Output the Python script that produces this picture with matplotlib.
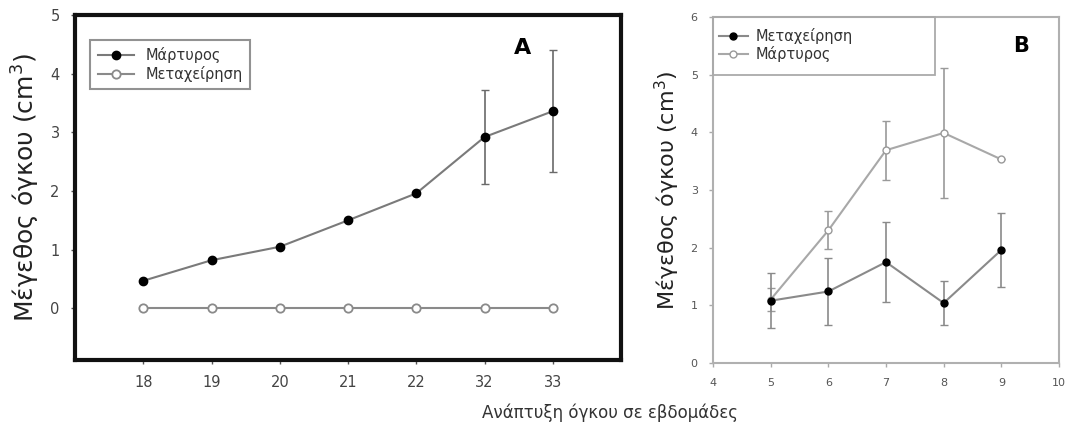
import matplotlib
matplotlib.use("Agg")
import matplotlib.pyplot as plt
from matplotlib.lines import Line2D
from matplotlib.patches import Rectangle
import numpy as np

plt.rcParams['font.family'] = ['DejaVu Sans']

# Panel A data
weeks_a = ["18", "19", "20", "21", "22", "32", "33"]
control_a = [0.47, 0.82, 1.05, 1.50, 1.96, 2.92, 3.36]
control_a_err = [0, 0, 0, 0, 0, 0.80, 1.04]
treat_a = [0, 0, 0, 0, 0, 0, 0]

# Panel B data
weeks_b = [5, 6, 7, 8, 9]
treat_b = [1.08, 1.24, 1.75, 1.04, 1.96]
treat_b_err = [0.48, 0.58, 0.70, 0.38, 0.64]
control_b = [1.10, 2.30, 3.69, 3.99, 3.53]
control_b_err = [0.20, 0.33, 0.51, 1.13, 0.0]

W, H = 1070, 433
fig = plt.figure(figsize=(W/100, H/100), dpi=100)

# Panel A
axA = fig.add_axes([75/W, 1-360/H, (621-75)/W, (360-15)/H])
xa = np.arange(len(weeks_a))
axA.plot(xa, treat_a, '-o', color='#8a8a8a', lw=1.5, ms=6, mfc='white', mec='#8a8a8a', mew=1.3, zorder=2)
axA.errorbar(xa, control_a, yerr=control_a_err, fmt='-o', color='#7a7a7a', lw=1.5,
             ms=6, mfc='black', mec='black', ecolor='#6a6a6a', elinewidth=1.2, capsize=3, zorder=3)
axA.set_xlim(-1, 7)
axA.set_ylim(-0.88, 5)
axA.set_xticks(xa)
axA.set_xticklabels(weeks_a)
axA.set_yticks([0, 1, 2, 3, 4, 5])
for s in axA.spines.values():
    s.set_linewidth(3)
    s.set_color('#111111')
axA.tick_params(length=3, width=1, color='#555555', labelsize=10.5, labelcolor='#444444', pad=8)
axA.text(0.82, 0.905, 'A', transform=axA.transAxes, fontsize=16, fontweight='bold', ha='center', va='center')
hA = [Line2D([], [], color='#7a7a7a', lw=1.5, marker='o', ms=6, mfc='black', mec='black'),
      Line2D([], [], color='#8a8a8a', lw=1.5, marker='o', ms=6, mfc='white', mec='#8a8a8a', mew=1.3)]
legA = axA.legend(hA, ['Μάρτυρος', 'Μεταχείρηση'], loc='upper left', bbox_to_anchor=(0.015, 0.95),
                  fontsize=10.5, frameon=True, fancybox=False, edgecolor='#777777',
                  handlelength=2.5, borderpad=0.5, labelspacing=0.2)
legA.get_frame().set_linewidth(1.5)
for t in legA.get_texts():
    t.set_color('#333333')
axA.set_ylabel('Μέγεθος όγκου (cm$^3$)', fontsize=18, color='#222222', labelpad=6)

# Panel B
axB = fig.add_axes([713/W, 1-363/H, (1059-713)/W, (363-17)/H])
axB.errorbar(weeks_b, control_b, yerr=control_b_err, fmt='-o', color='#a8a8a8', lw=1.5,
             ms=5, mfc='white', mec='#999999', ecolor='#9a9a9a', elinewidth=1.2, capsize=3, zorder=2)
axB.errorbar(weeks_b, treat_b, yerr=treat_b_err, fmt='-o', color='#8a8a8a', lw=1.5,
             ms=5, mfc='black', mec='black', ecolor='#8a8a8a', elinewidth=1.2, capsize=3, zorder=3)
axB.set_xlim(4, 10)
axB.set_ylim(0, 6)
axB.set_xticks(range(4, 11))
axB.set_yticks(range(0, 7))
for s in axB.spines.values():
    s.set_linewidth(1.5)
    s.set_color('#b0b0b0')
axB.tick_params(direction='out', length=3, width=1, color='#aaaaaa', labelsize=8, labelcolor='#555555', pad=8)
axB.text(0.89, 0.915, 'B', transform=axB.transAxes, fontsize=15, fontweight='bold', ha='center', va='center')
box_w = (935 - 713) / (1059 - 713)
axB.add_patch(Rectangle((0, 5/6), box_w, 1/6, transform=axB.transAxes, fill=False,
                        edgecolor='#aaaaaa', lw=1.3, zorder=4, clip_on=False))
hB = [Line2D([], [], color='#8a8a8a', lw=1.5, marker='o', ms=5, mfc='black', mec='black'),
      Line2D([], [], color='#a8a8a8', lw=1.5, marker='o', ms=5, mfc='white', mec='#999999')]
legB = axB.legend(hB, ['Μεταχείρηση', 'Μάρτυρος'], loc='upper left', bbox_to_anchor=(0.0, 0.985),
                  fontsize=10.5, frameon=False, handlelength=2.0, borderpad=0.4,
                  labelspacing=0.15, borderaxespad=0, handletextpad=0.5)
for t in legB.get_texts():
    t.set_color('#333333')
axB.set_ylabel('Μέγεθος όγκου (cm$^3$)', fontsize=16, color='#222222', labelpad=6)

fig.text(610/W, 1-413/H, 'Ανάπτυξη όγκου σε εβδομάδες', fontsize=12, color='#333333', ha='center', va='center')

fig.savefig('out.png', dpi=100)
